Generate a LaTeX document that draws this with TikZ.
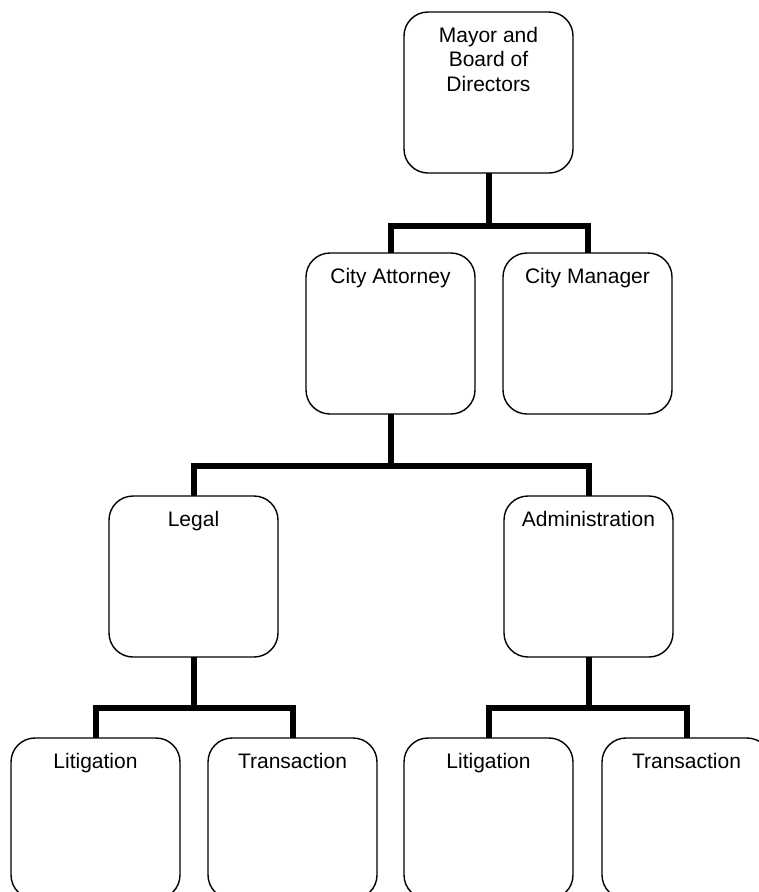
\documentclass[tikz,border=0pt]{standalone}
\usepackage{fontspec}
\setmainfont{Liberation Sans}
\begin{document}
\begin{tikzpicture}[x=1pt,y=-1pt,
  box/.style={draw=black, line width=1.4pt, rounded corners=24pt, minimum width=169pt, minimum height=161pt, inner sep=0pt, outer sep=0pt},
  lab/.style={anchor=north, yshift=-15pt, inner sep=0pt, align=center, font=\fontsize{21}{24.5}\selectfont},
  conn/.style={line width=6pt, line join=miter}]
\useasboundingbox (0,0) rectangle (759,892);
\node[box, label={[lab]north:Mayor and\\Board of\\Directors}] (top) at (488.5,92.5) {};
\node[box, label={[lab]north:City Attorney}] (att) at (390.5,333.5) {};
\node[box, label={[lab]north:City Manager}] (mgr) at (587.5,333.5) {};
\node[box, label={[lab]north:Legal}] (legal) at (193.5,576.5) {};
\node[box, label={[lab]north:Administration}] (admin) at (588.5,576.5) {};
\node[box, label={[lab]north:Litigation}] (lit1) at (95.5,818.5) {};
\node[box, label={[lab]north:Transaction}] (tra1) at (292.5,818.5) {};
\node[box, label={[lab]north:Litigation}] (lit2) at (488.5,818.5) {};
\node[box, label={[lab]north:Transaction}] (tra2) at (686.5,818.5) {};
\coordinate (j1) at (488.5,226);
\coordinate (j2) at (390.5,466);
\coordinate (j3) at (193.5,708);
\coordinate (j4) at (588.5,708);
\draw[conn] (top.south) -- (j1) -| (att.north);
\draw[conn] (j1) -| (mgr.north);
\draw[conn] (att.south) -- (j2) -| (legal.north);
\draw[conn] (j2) -| (admin.north);
\draw[conn] (legal.south) -- (j3) -| (lit1.north);
\draw[conn] (j3) -| (tra1.north);
\draw[conn] (admin.south) -- (j4) -| (lit2.north);
\draw[conn] (j4) -| (tra2.north);
\end{tikzpicture}
\end{document}
